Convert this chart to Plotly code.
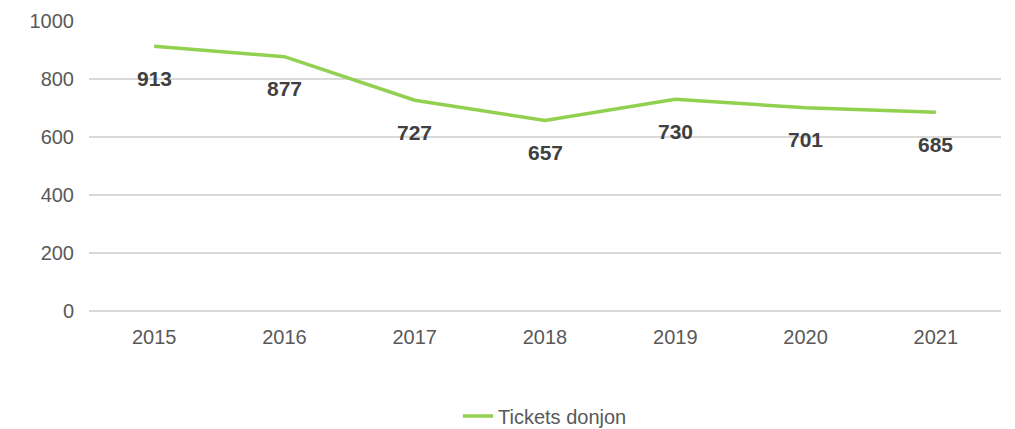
import plotly.graph_objects as go

years = ["2015", "2016", "2017", "2018", "2019", "2020", "2021"]
tickets = [913, 877, 727, 657, 730, 701, 685]
series_name = "Tickets donjon"

fig = go.Figure()
fig.add_trace(go.Scatter(
    x=years, y=tickets, mode="lines", name=series_name,
    line=dict(color="#92D050", width=3.5),
    showlegend=True,
))

for i, y in enumerate(tickets):
    fig.add_annotation(x=i, y=y, xref="x", yref="y", text=f"<b>{y}</b>", showarrow=False,
                       yshift=-32,
                       font=dict(family="Liberation Sans, Arial", size=21, color="#404040"))

fig.update_layout(
    width=1015, height=429,
    margin=dict(l=89, r=14, t=21, b=118, autoexpand=False),
    paper_bgcolor="white", plot_bgcolor="white",
    font=dict(family="Liberation Sans, Arial", size=20, color="#595959"),
    legend=dict(orientation="h", x=0.5, xanchor="center", y=-0.362, yanchor="middle",
                font=dict(size=20, color="#595959")),
    showlegend=True,
)
fig.update_xaxes(type="category", range=[-0.5, 6.5], showgrid=False, showline=False,
                 ticks="", ticklabelstandoff=12, tickfont=dict(size=20, color="#595959"))
fig.update_yaxes(range=[0, 1000], dtick=200, showgrid=True, gridcolor="#D9D9D9", gridwidth=1.5,
                 zeroline=True, zerolinecolor="#D9D9D9", zerolinewidth=1.5,
                 ticks="", ticklabelstandoff=14, tickfont=dict(size=20, color="#595959"))

fig.write_html("out.html", config={"displayModeBar": False},
               post_script="document.body.style.margin='0px';")
